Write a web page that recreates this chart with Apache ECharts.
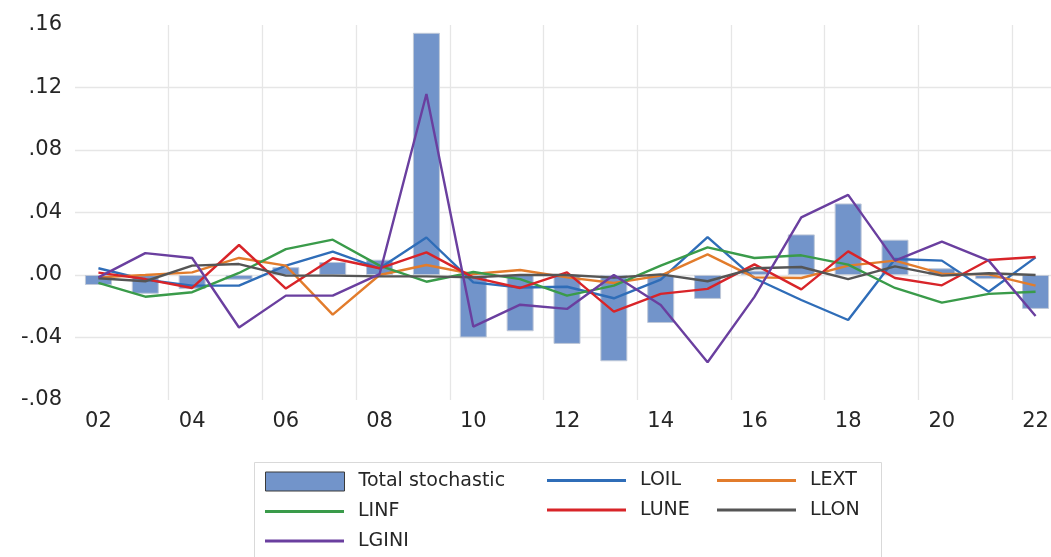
<!DOCTYPE html>
<html>
<head>
<meta charset="utf-8">
<script src="https://cdn.jsdelivr.net/npm/echarts@6/dist/echarts.min.js"></script>
<style>
html,body{margin:0;padding:0;background:#fff;overflow:hidden;width:1051px;height:557px;}
#chart{width:1100px;height:557px;}
</style>
</head>
<body>
<div id="chart"></div>
<script>
const categories = ['02','03','04','05','06','07','08','09','10','11','12','13','14','15','16','17','18','19','20','21','22'];
const yTicks = [-0.08, -0.04, 0.00, 0.04, 0.08, 0.12, 0.16];
const totalStochastic = [-0.0064,-0.012,-0.009,-0.003,0.005,0.0083,0.0098,0.155,-0.040,-0.036,-0.0441,-0.0552,-0.0307,-0.0153,0.0028,0.026,0.0458,0.0226,0.0043,-0.0026,-0.0217];
const LOIL  = [0.0043,-0.003,-0.0068,-0.0068,0.006,0.015,0.0043,0.024,-0.0047,-0.008,-0.0075,-0.0149,-0.003,0.0243,-0.0021,-0.016,-0.0288,0.0102,0.0092,-0.0107,0.0113];
const LEXT  = [-0.0015,0,0.0017,0.0109,0.006,-0.0254,0,0.0064,0.0006,0.0032,-0.0015,-0.0051,-0.0004,0.0132,-0.0015,-0.0019,0.006,0.0092,0.0009,0.0004,-0.0068];
const LINF  = [-0.0051,-0.0139,-0.011,0.0013,0.0166,0.0226,0.006,-0.0043,0.0019,-0.0026,-0.0132,-0.0068,0.006,0.0177,0.0109,0.0126,0.0066,-0.0083,-0.0177,-0.0121,-0.0107];
const LUNE  = [0.0015,-0.0026,-0.0083,0.0192,-0.0087,0.0107,0.0043,0.0145,-0.0015,-0.0083,0.0017,-0.0234,-0.0121,-0.0089,0.0068,-0.0092,0.0151,-0.0019,-0.0066,0.0096,0.0115];
const LLON  = [-0.0021,-0.004,0.006,0.007,-0.0004,-0.0004,-0.0009,-0.0009,-0.0015,0,0,-0.0017,0.0004,-0.004,0.0043,0.0051,-0.0026,0.0055,-0.0004,0.0011,0];
const LGINI = [-0.0015,0.014,0.0109,-0.0336,-0.0132,-0.0132,0.0006,0.1158,-0.033,-0.019,-0.0217,0,-0.0192,-0.0558,-0.014,0.0369,0.0513,0.0092,0.0213,0.0092,-0.0262];

const lineNames  = ['LOIL','LEXT','LINF','LUNE','LLON','LGINI'];
const lineData   = [LOIL, LEXT, LINF, LUNE, LLON, LGINI];
const lineColors = ['#2F6DB8','#E27C2C','#3A9B4A','#D82429','#555555','#6A3F9F'];
const barColor = '#7294CA';

const FONT = 'DejaVu Sans';
const textColor = '#262626';

const series = [{
  name: 'Total stochastic',
  type: 'bar',
  data: totalStochastic,
  barWidth: 27,
  itemStyle: {color: barColor, borderColor: '#BFC8D8', borderWidth: 1},
  z: 1
}];
lineNames.forEach((n, i) => {
  series.push({
    name: n, type: 'line', data: lineData[i],
    symbol: 'none', showSymbol: false,
    lineStyle: {color: lineColors[i], width: 2.4},
    itemStyle: {color: lineColors[i]},
    z: 2 + i
  });
});

function lineLegend(names, left, top) {
  return {
    orient: 'vertical', left: left, top: top,
    itemWidth: 79, itemHeight: 3, itemGap: 10.5,
    icon: 'rect', selectedMode: false, padding: 0,
    textStyle: {fontFamily: FONT, fontSize: 19, color: textColor, padding: [0,0,0,9]},
    data: names.map(n => ({name: n, icon: 'rect', itemStyle: {color: lineColors[lineNames.indexOf(n)]}}))
  };
}

const option = {
  animation: false,
  backgroundColor: '#ffffff',
  grid: {left: 75, top: 25, width: 984, height: 375, containLabel: false},
  xAxis: {
    type: 'category',
    data: categories,
    boundaryGap: true,
    axisLine: {show: false},
    axisTick: {show: false},
    axisLabel: {interval: 1, margin: 11, fontFamily: FONT, fontSize: 21, color: textColor},
    splitLine: {show: true, interval: (i) => i > 0 && i % 2 === 0, lineStyle: {color: '#E6E6E6', width: 1.3}}
  },
  yAxis: {
    type: 'value',
    min: yTicks[0], max: yTicks[yTicks.length - 1], interval: 0.04,
    axisLine: {show: false},
    axisTick: {show: false},
    axisLabel: {
      margin: 13, fontFamily: FONT, fontSize: 21, color: textColor,
      formatter: v => v.toFixed(2).replace('0.', '.')
    },
    splitLine: {show: true, showMinLine: false, showMaxLine: false, lineStyle: {color: '#E6E6E6', width: 1.3}}
  },
  legend: [
    {
      left: 265, top: 471.5, orient: 'vertical', padding: 0,
      itemWidth: 79, itemHeight: 19, selectedMode: false,
      textStyle: {fontFamily: FONT, fontSize: 19, color: textColor, padding: [0,0,0,9]},
      data: [{name: 'Total stochastic', icon: 'rect', itemStyle: {color: barColor, borderColor: '#3a3a3a', borderWidth: 1}}]
    },
    lineLegend(['LOIL','LUNE'], 547, 471),
    lineLegend(['LEXT','LLON'], 717, 471),
    lineLegend(['LINF','LGINI'], 265, 502)
  ],
  graphic: [{
    type: 'rect', silent: true, z: -1,
    shape: {x: 254.5, y: 462.5, width: 627, height: 110},
    style: {fill: 'none', stroke: '#D9D9D9', lineWidth: 1}
  }],
  series: series
};

const chart = echarts.init(document.getElementById('chart'), null, {renderer: 'canvas'});
chart.setOption(option);
</script>
</body>
</html>
